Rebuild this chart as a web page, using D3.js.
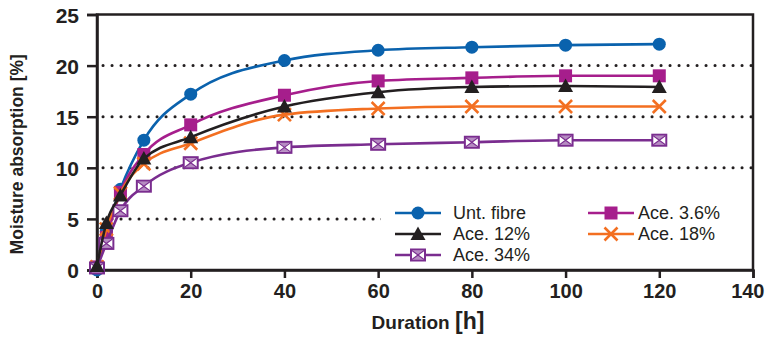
<!DOCTYPE html>
<html>
	<head>
		<meta charset="utf-8">
		<title>Moisture absorption</title>
		<script type="text/javascript" src="https://cdn.jsdelivr.net/npm/d3@7"></script>
		<style type="text/css">
			body{
				margin: 0;
				background: #fff;
			}
			svg{
				display: block;
				font-family: "Liberation Sans", Arial, Helvetica, sans-serif;
			}
		</style>
	</head>
	<body>
		<svg id="chart" width="766" height="339"></svg>
	</body>
	<script type="text/javascript">

		// data
		const hours = [0, 2, 5, 10, 20, 40, 60, 80, 100, 120];
		const untFibre = [0, 3.8, 7.9, 12.7, 17.2, 20.5, 21.5, 21.8, 22.0, 22.1];
		const ace36 = [0.3, 3.2, 7.6, 11.3, 14.2, 17.1, 18.5, 18.8, 19.0, 19.0];
		const ace12 = [0.4, 4.6, 7.3, 10.9, 13.0, 16.0, 17.4, 17.9, 18.0, 17.9];
		const ace18 = [0.3, 4.0, 7.5, 10.4, 12.4, 15.2, 15.8, 16.0, 16.0, 16.0];
		const ace34 = [0.2, 2.6, 5.8, 8.2, 10.5, 12.0, 12.3, 12.5, 12.7, 12.7];
		const xTicks = [0, 20, 40, 60, 80, 100, 120, 140];
		const yTicks = [0, 5, 10, 15, 20, 25];
		const gridValues = [5, 10, 15, 20];

		// drawing order: bottom to top
		const series = [
			{name: "Unt. fibre", values: untFibre, color: "#0a62ad", marker: "circle"},
			{name: "Ace. 3.6%", values: ace36, color: "#a61e8c", marker: "square"},
			{name: "Ace. 18%", values: ace18, color: "#f36f21", marker: "cross"},
			{name: "Ace. 34%", values: ace34, color: "#7a2d8f", marker: "box"},
			{name: "Ace. 12%", values: ace12, color: "#231f20", marker: "triangle"}
		];

		const pLeft = 97, pRight = 753, pTop = 14.5, pBottom = 270;
		const axisColor = "#231f20";

		let svg = d3.select("#chart");

		let xScale = d3.scaleLinear()
					.domain([0, 140])
					.range([pLeft, pRight]);

		let yScale = d3.scaleLinear()
					.domain([0, 25])
					.range([pBottom, pTop]);

		// dotted grid
		svg.selectAll("line.grid")
			.data(gridValues)
			.enter()
			.append("line")
			.attr("class", "grid")
			.attr("x1", pLeft + 6)
			.attr("x2", pRight + 6)
			.attr("y1", function(d){ return yScale(d); })
			.attr("y2", function(d){ return yScale(d); })
			.attr("stroke", "#231f20")
			.attr("stroke-width", 3)
			.attr("stroke-linecap", "round")
			.attr("stroke-dasharray", "0.1 8.9");

		// legend background hides the grid behind it
		svg.append("rect")
			.attr("x", 381)
			.attr("y", 199)
			.attr("width", 385)
			.attr("height", 66)
			.attr("fill", "#fff");

		// frame
		svg.append("rect")
			.attr("x", pLeft)
			.attr("y", pTop)
			.attr("width", pRight - pLeft)
			.attr("height", pBottom - pTop)
			.attr("fill", "none")
			.attr("stroke", axisColor)
			.attr("stroke-width", 2.5);

		// axes
		let xAxis = d3.axisBottom(xScale)
					.tickValues(xTicks)
					.tickSize(8)
					.tickPadding(6)
					.tickFormat(d3.format("d"));

		let yAxis = d3.axisLeft(yScale)
					.tickValues(yTicks)
					.tickSize(10)
					.tickPadding(8)
					.tickFormat(d3.format("d"));

		let gx = svg.append("g")
					.attr("transform", "translate(0," + pBottom + ")")
					.call(xAxis);

		let gy = svg.append("g")
					.attr("transform", "translate(" + pLeft + ",0)")
					.call(yAxis);

		[gx, gy].forEach(function(g){
			g.select(".domain").attr("stroke", axisColor).attr("stroke-width", 2.5);
			g.selectAll(".tick line").attr("stroke", axisColor).attr("stroke-width", 2.5);
			g.selectAll(".tick text")
				.attr("fill", "#231f20")
				.attr("font-family", "'Liberation Sans', Arial, sans-serif")
				.attr("font-weight", "bold");
		});
		gx.selectAll(".tick text").attr("font-size", "20px");
		gy.selectAll(".tick text").attr("font-size", "21px").attr("dy", "0.36em");

		// last x label is pulled inside the window
		gx.selectAll(".tick text")
			.filter(function(d){ return d === 140; })
			.attr("text-anchor", "end")
			.attr("x", 11);

		// axis titles
		svg.append("text")
			.attr("x", 428)
			.attr("y", 329)
			.attr("text-anchor", "middle")
			.attr("font-size", "19px")
			.attr("font-weight", "bold")
			.attr("fill", "#231f20")
			.text("Duration ")
			.append("tspan")
			.attr("font-size", "23px")
			.text("[h]");

		svg.append("text")
			.attr("transform", "translate(23," + ((pTop + pBottom) / 2 + 12) + ") rotate(-90)")
			.attr("text-anchor", "middle")
			.attr("font-size", "17.5px")
			.attr("font-weight", "bold")
			.attr("fill", "#231f20")
			.text("Moisture absorption [%]");

		// markers
		function drawMarker(g, type, color){
			if (type === "circle") {
				g.append("circle").attr("r", 6.5).attr("fill", color);
			} else if (type === "square") {
				g.append("rect").attr("x", -6.5).attr("y", -6.5).attr("width", 13).attr("height", 13).attr("fill", color);
			} else if (type === "triangle") {
				g.append("path").attr("d", "M0,-7.5L7.5,6L-7.5,6Z").attr("fill", color);
			} else if (type === "cross") {
				g.append("path").attr("d", "M-6.5,-6.5L6.5,6.5M6.5,-6.5L-6.5,6.5")
					.attr("stroke", color).attr("stroke-width", 2.6).attr("fill", "none");
			} else if (type === "box") {
				g.append("rect").attr("x", -7).attr("y", -5.5).attr("width", 14).attr("height", 11)
					.attr("fill", "#fff").attr("stroke", color).attr("stroke-width", 2);
				g.append("path").attr("d", "M-5,-4.5L5,-4.5L0,0Z M-5,4.5L5,4.5L0,0Z").attr("fill", color).attr("opacity", 0.55);
				g.append("path").attr("d", "M-6,-4.5L6,4.5M6,-4.5L-6,4.5")
					.attr("stroke", color).attr("stroke-width", 1.2);
			}
		}

		let line = d3.line()
					.x(function(d){ return xScale(d[0]); })
					.y(function(d){ return yScale(d[1]); })
					.curve(d3.curveMonotoneX);

		series.forEach(function(s){
			let pts = hours.map(function(h, i){ return [h, s.values[i]]; });

			svg.append("path")
				.datum(pts)
				.attr("d", line)
				.attr("fill", "none")
				.attr("stroke", s.color)
				.attr("stroke-width", 2.6);

			svg.append("g")
				.selectAll("g")
				.data(pts)
				.enter()
				.append("g")
				.attr("transform", function(d){ return "translate(" + xScale(d[0]) + "," + yScale(d[1]) + ")"; })
				.each(function(){ drawMarker(d3.select(this), s.marker, s.color); });
		});

		// legend
		const legendItems = [
			{name: "Unt. fibre", col: 0, row: 0, s: series[0]},
			{name: "Ace. 12%", col: 0, row: 1, s: series[4]},
			{name: "Ace. 34%", col: 0, row: 2, s: series[3]},
			{name: "Ace. 3.6%", col: 1, row: 0, s: series[1]},
			{name: "Ace. 18%", col: 1, row: 1, s: series[2]}
		];
		const colX = [395, 588], rowY = [213, 234, 255];

		let legend = svg.selectAll("g.legend")
					.data(legendItems)
					.enter()
					.append("g")
					.attr("class", "legend")
					.attr("transform", function(d){ return "translate(" + colX[d.col] + "," + rowY[d.row] + ")"; });

		legend.append("line")
			.attr("x1", 0)
			.attr("x2", 46)
			.attr("stroke", function(d){ return d.s.color; })
			.attr("stroke-width", 2.6);

		legend.each(function(d){
			let g = d3.select(this).append("g").attr("transform", "translate(23,0)");
			drawMarker(g, d.s.marker, d.s.color);
		});

		legend.append("text")
			.attr("x", function(d){ return d.col === 0 ? 58 : 50; })
			.attr("dy", "0.36em")
			.attr("font-size", "18px")
			.attr("fill", "#231f20")
			.text(function(d){ return d.name; });

	</script>
</html>
